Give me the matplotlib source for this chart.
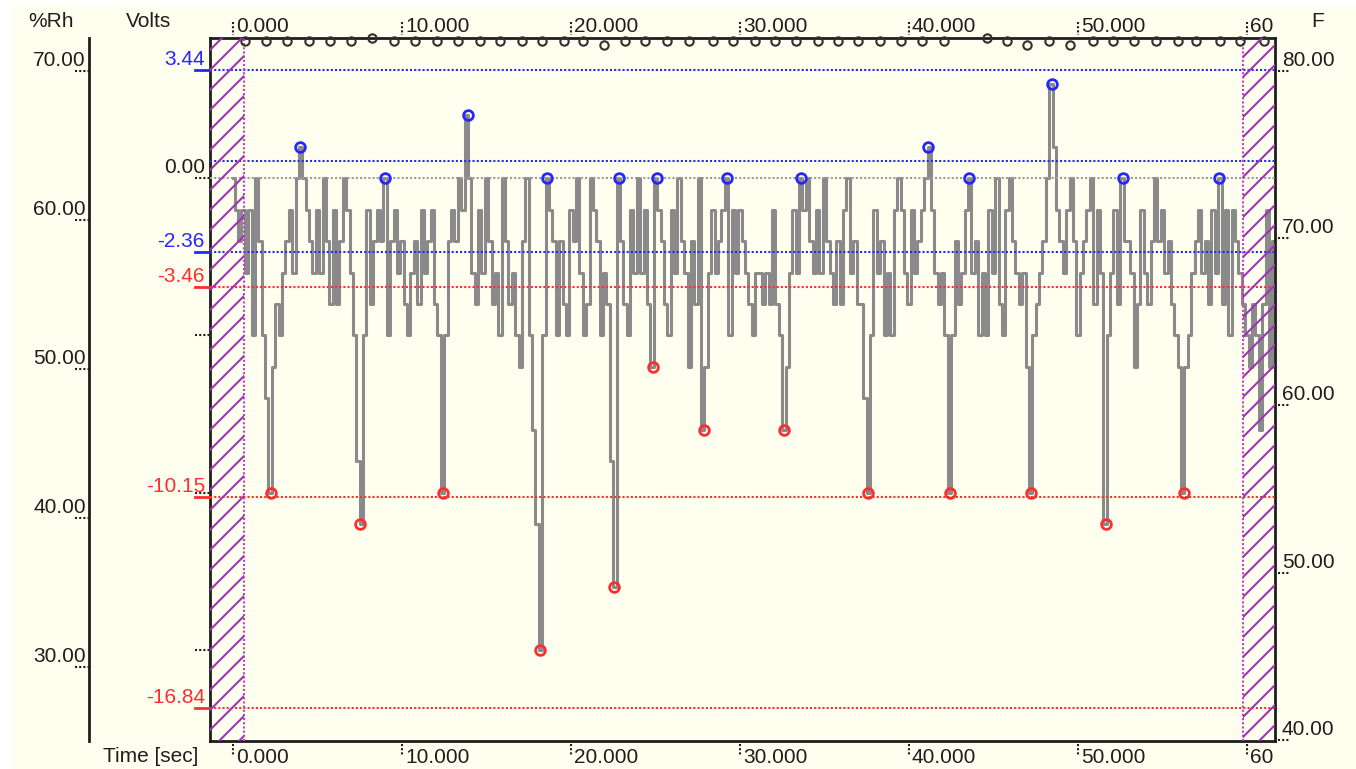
import numpy as np
import matplotlib
matplotlib.use("Agg")
import matplotlib.pyplot as plt
from matplotlib import transforms
from matplotlib.patches import Rectangle

plt.rcParams['font.family'] = ['Liberation Sans', 'DejaVu Sans']

# ---------------- data ----------------
dt = 0.2   # one sample every 0.2 s, starting at t = 0
volts = [
    0, -1, -2, -1, -3, -1, -5, 0, -2, -5,          # 0 - 2 s
    -7, -10, -6, -4, -5, -3, -2, -1, -3, 0,        # 2 - 4
    1, 0, -1, -2, -3, -1, -3, 0, -2, -4,           # 4 - 6
    -1, -4, -2, 0, -1, -3, -5, -9, -11, -5,        # 6 - 8
    -1, -4, -2, -1, -2, 0, -5, -2, -1, -3,         # 8 - 10
    -2, -4, -5, -3, -2, -4, -1, -3, -2, -1,        # 10 - 12
    -4, -5, -10, -5, -2, -1, -2, 0, -1, 2,         # 12 - 14
    0, -3, -4, -1, -3, 0, -2, -4, -3, -5,          # 14 - 16
    0, -2, -4, -3, -5, -6, -2, 0, -5, -8,          # 16 - 18
    -11, -15, -5, 0, -1, -2, -5, -2, -4, -5,       # 18 - 20
    -1, -2, 0, -3, -5, -4, 0, -1, -2, -5,          # 20 - 22
    -3, -4, -9, -13, 0, -2, -4, -5, -1, -3,        # 22 - 24
    0, -3, -1, -4, -6, 0, -1, -2, -4, -5,          # 24 - 26
    -1, -3, 0, -2, -3, -6, -2, -4, 0, -8,          # 26 - 28
    -6, -3, -1, -3, -2, -1, 0, -5, -1, -3,         # 28 - 30
    -1, -2, -3, -4, -5, -3, -3, -4, -3, -4,        # 30 - 32
    -1, -4, -5, -8, -6, -3, -1, -3, 0, -1,         # 32 - 34
    0, -2, -3, -1, -3, 0, -2, -3, -4, -2,          # 34 - 36
    -4, -1, 0, -3, -2, -4, -4, -7, -10, -5,        # 36 - 38
    -1, -3, -2, -5, -3, -5, -1, 0, -1, -3,         # 38 - 40
    -4, -1, -3, -2, -1, 0, 1, -1, -3, -4,          # 40 - 42
    -3, -5, -10, -5, -2, -4, -3, -1, 0, -3,        # 42 - 44
    -2, -5, -3, -5, -1, -3, 0, -4, -5, -1,         # 44 - 46
    0, -2, -3, -4, -3, -6, -10, -5, -4, -3,        # 46 - 48
    -2, 0, 3, 1, -1, -2, -3, -1, 0, -2,            # 48 - 50
    -5, -3, -2, -1, 0, -4, -1, -3, -11, -5,        # 50 - 52
    -3, -1, -4, 0, -2, -2, -3, -6, -4, -1,         # 52 - 54
    -3, -4, -2, 0, -2, -1, -3, -2, -4, -5,         # 54 - 56
    -6, -10, -6, -5, -3, -2, -1, -3, -2, -4,       # 56 - 58
    -1, -3, 0, -4, -1, -5, -1, -2, -3, -4,         # 58 - 60
    -5, -6, -4, -5, -8, -4, -1, -6, -2,            # 60 - 61.6
]
time = np.arange(len(volts)) * dt

peak_t = [3.96, 8.99, 13.9, 18.58, 22.84, 25.09, 29.23, 33.6, 41.12, 43.55, 48.46, 52.66, 58.34]
peak_v = [1, 0, 2, 0, 0, 0, 0, 0, 1, 0, 3, 0, 0]
trough_t = [2.25, 7.51, 12.43, 18.17, 22.54, 24.85, 27.87, 32.6, 37.57, 42.43, 47.22, 51.66, 56.27]
trough_v = [-10, -11, -10, -15, -13, -6, -8, -8, -10, -10, -10, -11, -10]

blue_levels = [3.44, 0.54, -2.36]
red_levels = [-3.46, -10.15, -16.84]
volt_marks = [3.44, 0.00, -2.36, -3.46, -10.15, -16.84]
volt_mark_colors = ['blue', 'black', 'blue', 'red', 'red', 'red']
volt_minor = [0, -5, -10, -15]

# beat markers along the top edge (kind: 0 normal, 1 raised, -1 lowered)
beat_t = [0.71, 1.95, 3.2, 4.5, 5.74, 6.98, 8.2, 9.5, 10.8, 12.1, 13.3, 14.6, 15.8,
          17.1, 18.3, 19.6, 20.7, 21.95, 23.2, 24.4, 25.7, 27.0, 28.4, 29.6, 30.9,
          32.07, 33.3, 34.6, 35.8, 37.0, 38.3, 39.5, 40.8, 42.1, 44.6, 45.8, 47.0,
          48.3, 49.5, 50.9, 52.1, 53.3, 54.6, 55.9, 57.0, 58.4, 59.6, 61.0]
beat_kind = [0, 0, 0, 0, 0, 0, 1, 0, 0, 0, 0, 0, 0,
             0, 0, 0, 0, -1, 0, 0, 0, 0, 0, 0, 0,
             0, 0, 0, 0, 0, 0, 0, 0, 0, 1, 0, -1,
             0, -1, 0, 0, 0, 0, 0, 0, 0, 0, 0]

excluded = [(-1.36, 0.65), (59.76, 61.66)]

time_ticks = [0, 10, 20, 30, 40, 50, 60]
time_labels = ['0.000', '10.000', '20.000', '30.000', '40.000', '50.000', '60']
rh_ticks = [70, 60, 50, 40, 30]
f_ticks = [80, 70, 60, 50, 40]

# ---------------- layout ----------------
W, H = 1356, 769
cream = '#fffff0'
ink = '#1e1e1e'
purple = '#9e34b2'
col = {'blue': '#2626ff', 'red': '#ff2d2d', 'black': ink}
fs = 15
top, bot = 38, 741

fig = plt.figure(figsize=(W / 100, H / 100), dpi=100, facecolor='white')
fig.add_artist(Rectangle((11 / W, 0), 1, (H - 6) / H, transform=fig.transFigure,
                         facecolor=cream, edgecolor='none', zorder=-10))

rect = [210 / W, (H - bot) / H, (1275 - 210) / W, (bot - top) / H]
ax = fig.add_axes(rect, facecolor=cream)
ax_rh = fig.add_axes(rect, label='rh')
ax_f = fig.add_axes(rect, label='f')
ov = fig.add_axes([0, 0, 1, 1], label='overlay')
for a in (ax_rh, ax_f, ov):
    a.set_axis_off()
    a.patch.set_alpha(0)
ov.set_zorder(3)

ax.set_xlim(-1.36, 61.66)
ax.set_ylim(-17.895, 4.458)
ax_rh.set_ylim(25.075, 72.18)
ax_f.set_ylim(39.94, 81.955)
ov.set_xlim(0, W)
ov.set_ylim(H, 0)
ov.set_autoscale_on(False)
ax.set_xticks([])
ax.set_yticks([])
for s in ax.spines.values():
    s.set_linewidth(2)
    s.set_color(ink)

dots = (0, (1, 1))

# signal
ax.step(time, volts, where='mid', color='#8a8a8a', lw=2.2, zorder=2)

# reference levels
ax.axhline(0, color='#9a9a9a', ls=dots, lw=1.5, zorder=3)
for v in blue_levels:
    ax.axhline(v, color=col['blue'], ls=dots, lw=1.5, zorder=3)
for v in red_levels:
    ax.axhline(v, color=col['red'], ls=dots, lw=1.5, zorder=3)

# detected peaks / troughs
ax.plot(peak_t, peak_v, 'o', mfc='none', mec=col['blue'], ms=7, mew=2, zorder=5)
ax.plot(trough_t, trough_v, 'o', mfc='none', mec=col['red'], ms=7, mew=2, zorder=5)

trX = transforms.blended_transform_factory(ax.transData, ov.transData)

# excluded regions: diagonal hatching, 20 px apart
diag = np.arange(0, W + H + 40, 20)
for a, b in excluded:
    clip = Rectangle((a, top), b - a, bot - top, transform=trX)
    for c in diag:
        ln, = ov.plot([c - H, c], [H, 0], color=purple, lw=1.5, zorder=4)
        ln.set_clip_path(clip)
for t in (excluded[0][1], excluded[1][0]):
    ax.axvline(t, color='#c040c8', ls=dots, lw=1.5, zorder=4)

# beat markers on the top edge
beat_y = {0: 41, 1: 37.5, -1: 44.5}
for k in (0, 1, -1):
    tt = [t for t, kk in zip(beat_t, beat_kind) if kk == k]
    ov.plot(tt, [beat_y[k]] * len(tt), 'o', transform=trX, mfc='none', mec='#303030',
            ms=6, mew=1.5, clip_on=False, zorder=3)

# time axis (top and bottom)
trX_txt = transforms.offset_copy(trX, x=3, units='dots')
for t, lab in zip(time_ticks, time_labels):
    ov.plot([t, t], [22, 35], transform=trX, color=ink, ls=dots, lw=1.5, clip_on=False)
    ov.plot([t, t], [744, 756], transform=trX, color=ink, ls=dots, lw=1.5, clip_on=False)
    ov.text(t, 32, lab, transform=trX_txt, ha='left', va='baseline', fontsize=fs, color=ink)
    ov.text(t, 763, lab, transform=trX_txt, ha='left', va='baseline', fontsize=fs, color=ink)

# volts axis labels
trV = transforms.blended_transform_factory(ov.transData, ax.transData)
trV_txt = transforms.offset_copy(trV, y=5, units='dots')
for v in volt_minor:
    ov.plot([195, 209], [v, v], transform=trV, color=ink, ls=dots, lw=1.5, clip_on=False)
for v, c in zip(volt_marks, volt_mark_colors):
    if c != 'black':
        ov.plot([195, 210], [v, v], transform=trV, color=col[c], lw=2, clip_on=False)
    ov.text(205, v, f'{v:.2f}', transform=trV_txt, ha='right', va='baseline',
            fontsize=fs, color=col[c])

# %Rh axis
trR = transforms.blended_transform_factory(ov.transData, ax_rh.transData)
trR_txt = transforms.offset_copy(trR, y=5, units='dots')
ov.plot([89, 89], [top, bot], color=ink, lw=2, clip_on=False)
for r in rh_ticks:
    ov.plot([75, 89], [r, r], transform=trR, color=ink, ls=dots, lw=1.5, clip_on=False)
    ov.text(86, r, f'{r:.2f}', transform=trR_txt, ha='right', va='baseline',
            fontsize=fs, color=ink)

# F axis
trF = transforms.blended_transform_factory(ov.transData, ax_f.transData)
trF_txt = transforms.offset_copy(trF, y=5, units='dots')
for f in f_ticks:
    ov.plot([1278, 1290], [f, f], transform=trF, color=ink, ls=dots, lw=1.5, clip_on=False)
    ov.text(1282, f, f'{f:.2f}', transform=trF_txt, ha='left', va='baseline',
            fontsize=fs, color=ink)

# axis titles
ov.text(28, 27, '%Rh', ha='left', va='baseline', fontsize=fs, color=ink)
ov.text(126, 27, 'Volts', ha='left', va='baseline', fontsize=fs, color=ink)
ov.text(1311, 27, 'F', ha='left', va='baseline', fontsize=fs, color=ink)
ov.text(103, 762, 'Time [sec]', ha='left', va='baseline', fontsize=fs, color=ink)

fig.savefig('out.png', dpi=100, facecolor=fig.get_facecolor())
